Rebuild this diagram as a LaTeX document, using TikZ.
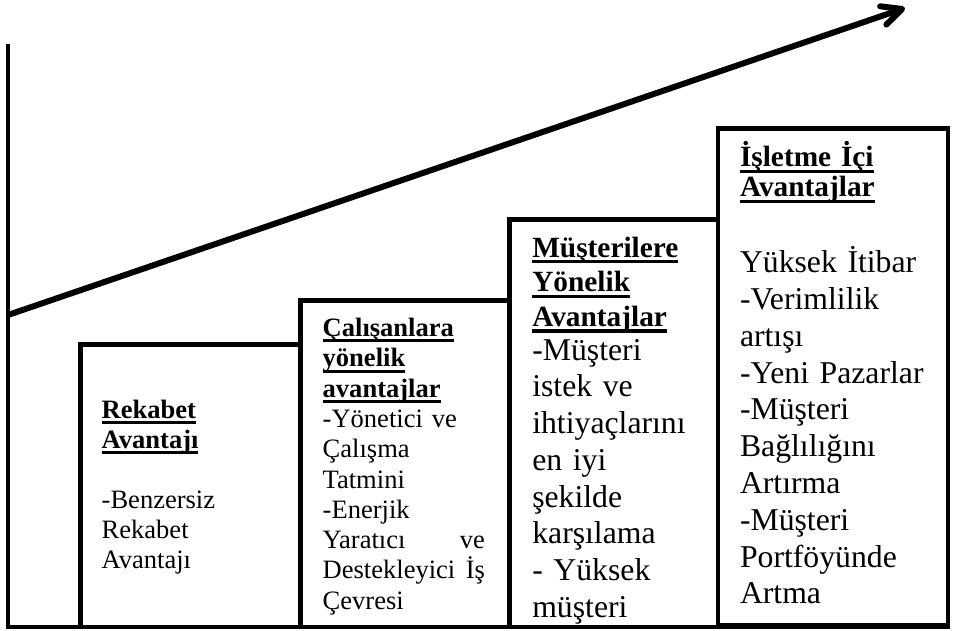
\documentclass[tikz,border=0pt]{standalone}
\usepackage{fontspec}
\setmainfont{Liberation Serif}
\usetikzlibrary{arrows.meta}
% bold heading word with a fixed-position underline
\newcommand\ulword[1]{\leavevmode\setbox0=\hbox{\bfseries #1}\rlap{\rule[-0.21em]{\wd0}{0.105em}}\box0}

\begin{document}
\begin{tikzpicture}[x=0.75pt,y=-0.75pt,
  frame/.style={line width=3.6pt, line join=miter},
  axisline/.style={line width=3.6pt, line join=miter},
  trend/.style={line width=4.5pt, -{Straight Barb[round,length=15pt,width=14.5pt]}},
  txt/.style={anchor=base west, inner sep=0pt, outer sep=0pt, align=left},
  smalltxt/.style={txt, font=\fontsize{19.9}{22.7}\selectfont},
  bighead/.style={txt, font=\fontsize{22}{25.9}\selectfont},
  bigtxt/.style={txt, font=\fontsize{23.8}{27.6}\selectfont}
]
\useasboundingbox (0,0) rectangle (954,631);

% axes
\coordinate (ytop) at (8,44);
\coordinate (origin) at (8,627);
\coordinate (xend) at (950,627);
\draw[axisline] (ytop) -- (origin) -- (xend);

% rising trend arrow
\coordinate (trendstart) at (8,315);
\coordinate (trendtip) at (905,8);
\draw[trend] (trendstart) -- (trendtip);

% stair boxes
\coordinate (b1a) at (80.5,344.5);  \coordinate (b1b) at (300.5,627);
\coordinate (b2a) at (300.5,300.5); \coordinate (b2b) at (509.5,627);
\coordinate (b3a) at (509.5,219.5); \coordinate (b3b) at (718,627);
\coordinate (b4a) at (718,128.5);   \coordinate (b4b) at (948,625.5);
\draw[frame] (b1a) rectangle (b1b);
\draw[frame] (b2a) rectangle (b2b);
\draw[frame] (b3a) rectangle (b3b);
\draw[frame] (b4a) rectangle (b4b);

% box 1
\node[smalltxt, text width=180pt] (h1) at (101.7,418.3)
  {\ulword{Rekabet}\\\ulword{Avantajı}};
\node[smalltxt, text width=180pt] (t1) at (101.7,508.3)
  {-Benzersiz\\Rekabet\\Avantajı};

% box 2
\node[smalltxt, text width=121.7pt] (t2) at (322.7,336.7)
  {\ulword{Çalışanlara}\\\ulword{yönelik}\\\ulword{avantajlar}\\
   -Yönetici ve\\Çalışma\\Tatmini\\-Enerjik\\
   Yaratıcı\hfill ve\\Destekleyici\hfill İş\\Çevresi};

% box 3
\node[bighead, text width=140pt] (h3) at (532.3,257.3)
  {\ulword{Müşterilere}\\\ulword{Yönelik}\\\ulword{Avantajlar}};
\node[bigtxt, text width=140pt] (t3) at (532.3,360)
  {-Müşteri\\istek ve\\ihtiyaçlarını\\en iyi\\şekilde\\karşılama\\- Yüksek\\müşteri};

% box 4
\node[bighead, text width=150pt, font=\fontsize{22}{22.5}\selectfont] (h4) at (740,166.7)
  {\ulword{İşletme İçi}\\\ulword{Avantajlar}};
\node[bigtxt, text width=150pt] (t4) at (740,272.7)
  {Yüksek İtibar\\-Verimlilik\\artışı\\-Yeni Pazarlar\\-Müşteri\\Bağlılığını\\Artırma\\-Müşteri\\Portföyünde\\Artma};
\end{tikzpicture}
\end{document}
